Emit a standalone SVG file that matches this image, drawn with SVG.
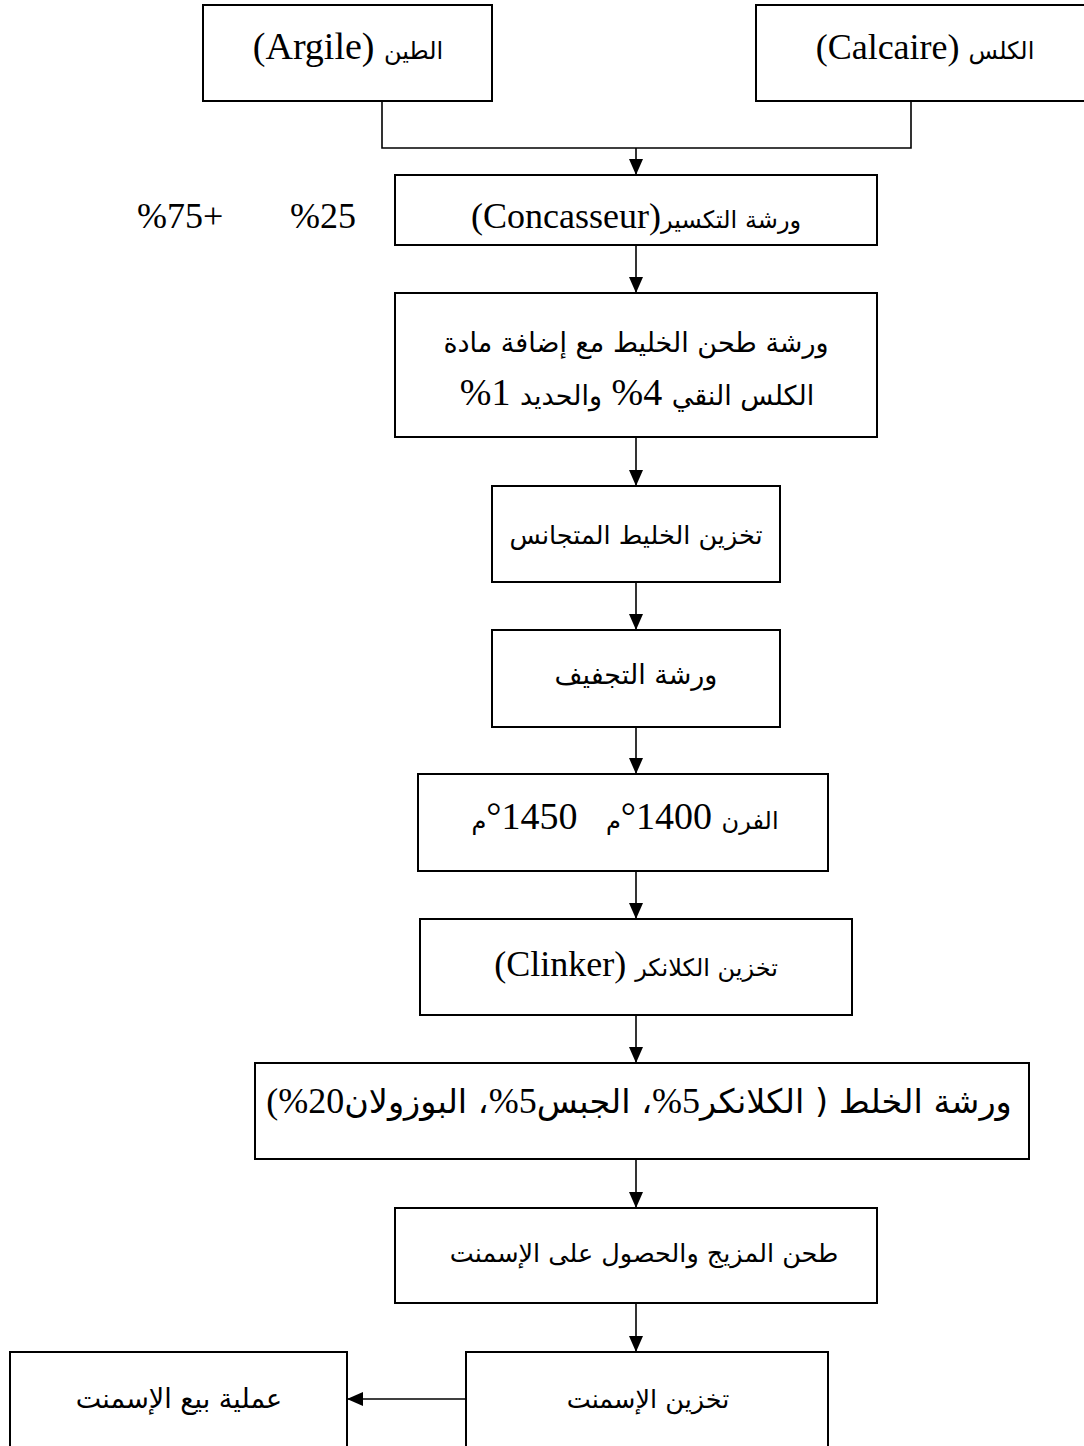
<svg xmlns="http://www.w3.org/2000/svg" width="1084" height="1446" viewBox="0 0 1084 1446">
  <style>
    .box { fill: #ffffff; stroke: #000000; stroke-width: 2; }
    .link { fill: none; stroke: #000000; stroke-width: 1.6; }
    text { font-family: "Liberation Serif", "DejaVu Sans", serif; font-size: 36px; fill: #000000; }
    .lbl { text-anchor: middle; direction: rtl; }
    .big { font-size: 38px; }
    .ar { font-family: "DejaVu Sans", sans-serif; font-size: 24px; }
    .ar2 { font-family: "DejaVu Sans", sans-serif; font-size: 27px; }
    .ar3 { font-family: "DejaVu Sans", sans-serif; font-size: 25.5px; }
    .ar4 { font-family: "DejaVu Sans", sans-serif; font-size: 33.5px; }
  </style>
  <defs>
    <marker id="arrow" markerUnits="userSpaceOnUse" markerWidth="16" markerHeight="14" refX="16" refY="7" orient="auto">
      <path d="M0,0 L16,7 L0,14 z" fill="#000000"/>
    </marker>
  </defs>

  <rect width="1084" height="1446" fill="#ffffff"/>

  <!-- connectors -->
  <g id="connectors">
    <path class="link" d="M382,101 V148 H911 V101"/>
    <path class="link" d="M636,148 V175" marker-end="url(#arrow)"/>
    <path class="link" d="M636,245 V293" marker-end="url(#arrow)"/>
    <path class="link" d="M636,437 V486" marker-end="url(#arrow)"/>
    <path class="link" d="M636,582 V630" marker-end="url(#arrow)"/>
    <path class="link" d="M636,727 V774" marker-end="url(#arrow)"/>
    <path class="link" d="M636,871 V919" marker-end="url(#arrow)"/>
    <path class="link" d="M636,1015 V1063" marker-end="url(#arrow)"/>
    <path class="link" d="M636,1159 V1208" marker-end="url(#arrow)"/>
    <path class="link" d="M636,1303 V1352" marker-end="url(#arrow)"/>
    <path class="link" d="M466,1399 H347" marker-end="url(#arrow)"/>
  </g>

  <!-- clay -->
  <g id="argile">
    <rect class="box" x="203" y="5" width="289" height="96"/>
    <text class="lbl big" x="348" y="59"><tspan class="ar">الطين</tspan> (Argile)</text>
  </g>

  <!-- limestone -->
  <g id="calcaire">
    <rect class="box" x="756" y="5" width="340" height="96"/>
    <text class="lbl" x="925" y="59"><tspan class="ar">الكلس</tspan> (Calcaire)</text>
  </g>

  <!-- proportions -->
  <g id="ratio">
    <text x="137" y="228">%75+</text>
    <text x="290" y="228">%25</text>
  </g>

  <!-- crusher -->
  <g id="concasseur">
    <rect class="box" x="395" y="175" width="482" height="70"/>
    <text class="lbl" x="636" y="228"><tspan class="ar">ورشة التكسير</tspan>(Concasseur)</text>
  </g>

  <!-- raw mill -->
  <g id="broyage-cru">
    <rect class="box" x="395" y="293" width="482" height="144"/>
    <text class="lbl ar2" x="636" y="352">ورشة طحن الخليط مع إضافة مادة</text>
    <text class="lbl big" x="637" y="405"><tspan class="ar2">الكلس النقي</tspan> 4% <tspan class="ar2">والحديد</tspan> 1%</text>
  </g>

  <!-- homogenised storage -->
  <g id="stockage-mix">
    <rect class="box" x="492" y="486" width="288" height="96"/>
    <text class="lbl ar3" x="636" y="544">تخزين الخليط المتجانس</text>
  </g>

  <!-- drying -->
  <g id="sechage">
    <rect class="box" x="492" y="630" width="288" height="97"/>
    <text class="lbl ar2" x="636" y="684">ورشة التجفيف</text>
  </g>

  <!-- kiln -->
  <g id="four">
    <rect class="box" x="418" y="774" width="410" height="97"/>
    <text class="lbl big" x="625" y="829" xml:space="preserve"><tspan class="ar">الفرن</tspan> 1400°<tspan class="ar">م</tspan>   1450°<tspan class="ar">م</tspan></text>
  </g>

  <!-- clinker storage -->
  <g id="clinker">
    <rect class="box" x="420" y="919" width="432" height="96"/>
    <text class="lbl" x="636" y="976"><tspan class="ar">تخزين الكلانكر</tspan> (Clinker)</text>
  </g>

  <!-- mixing -->
  <g id="melange">
    <rect class="box" x="255" y="1063" width="774" height="96"/>
    <text class="lbl" x="639" y="1113"><tspan class="ar4">ورشة الخلط ( الكلانكر</tspan>5%<tspan class="ar4">، الجبس</tspan>5%<tspan class="ar4">، البوزولان</tspan>20%)</text>
  </g>

  <!-- cement mill -->
  <g id="broyage-ciment">
    <rect class="box" x="395" y="1208" width="482" height="95"/>
    <text class="lbl ar3" x="644" y="1262">طحن المزيج والحصول على الإسمنت</text>
  </g>

  <!-- cement storage -->
  <g id="stockage-ciment">
    <rect class="box" x="466" y="1352" width="362" height="110"/>
    <text class="lbl ar3" x="648" y="1408">تخزين الإسمنت</text>
  </g>

  <!-- sales -->
  <g id="vente">
    <rect class="box" x="10" y="1352" width="337" height="110"/>
    <text class="lbl ar2" x="179" y="1408">عملية بيع الإسمنت</text>
  </g>
</svg>
